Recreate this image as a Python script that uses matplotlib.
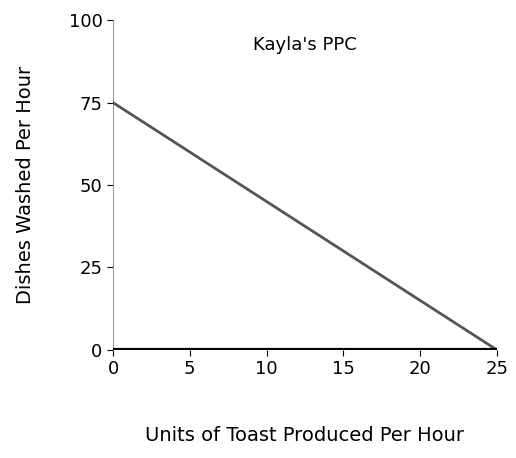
import numpy as np
import matplotlib
matplotlib.use('Agg')
import matplotlib.pyplot as plt

# PPC endpoints
toast = [0, 25]
dishes = [75, 0]
x_ticks = [0, 5, 10, 15, 20, 25]
y_ticks = [0, 25, 50, 75, 100]

fig = plt.figure(figsize=(5.16, 4.58), dpi=100)
ax = fig.add_axes([0.219, 0.236, 0.744, 0.72])

ax.plot(toast, dishes, color='#555555', linewidth=2, zorder=3)
ax.axhline(y=0, color='black', linewidth=3, zorder=4)

ax.set_xlim(0, 25)
ax.set_ylim(0, 100)
ax.set_xticks(x_ticks)
ax.set_yticks(y_ticks)
ax.tick_params(labelsize=13, length=4)

for side in ['top', 'right']:
    ax.spines[side].set_visible(False)
ax.spines['bottom'].set_visible(False)
ax.spines['left'].set_color('#999999')

ax.text(0.5, 0.925, "Kayla's PPC", transform=ax.transAxes,
        ha='center', va='center', fontsize=13)

ax.set_xlabel('Units of Toast Produced Per Hour', fontsize=14, labelpad=34)
ax.set_ylabel('Dishes Washed Per Hour', fontsize=14, labelpad=24)

fig.savefig('out.png', dpi=100)
